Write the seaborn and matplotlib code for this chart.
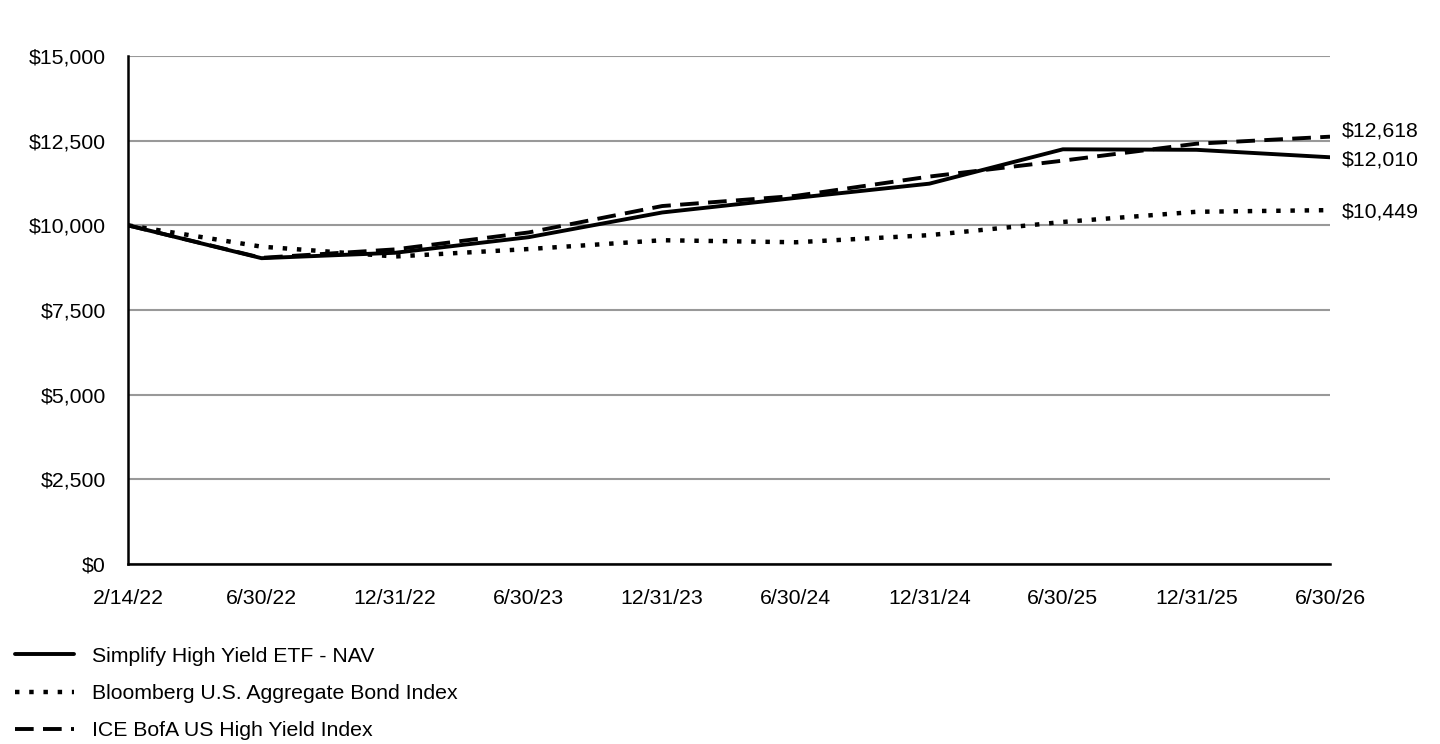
import numpy as np
import pandas as pd
import matplotlib
matplotlib.use("Agg")
import matplotlib.pyplot as plt
import seaborn as sns

# chart data
dates = ["2/14/22", "6/30/22", "12/31/22", "6/30/23", "12/31/23",
         "6/30/24", "12/31/24", "6/30/25", "12/31/25", "6/30/26"]
nav = [10000, 9030, 9190, 9650, 10380, 10810, 11230, 12245, 12230, 12010]
agg = [10000, 9370, 9080, 9300, 9560, 9500, 9710, 10100, 10400, 10449]
hy = [10000, 9040, 9290, 9790, 10570, 10870, 11440, 11910, 12410, 12618]
series_names = ["Simplify High Yield ETF - NAV",
                "Bloomberg U.S. Aggregate Bond Index",
                "ICE BofA US High Yield Index"]
end_labels = ["$12,010", "$10,449", "$12,618"]

sns.set_style("white")
plt.rcParams["font.family"] = ["Liberation Sans", "DejaVu Sans"]
plt.rcParams["text.color"] = "black"
plt.rcParams["xtick.color"] = "black"
plt.rcParams["ytick.color"] = "black"

FS = 15.3

fig = plt.figure(figsize=(14.4, 7.44), dpi=100)
ax = fig.add_axes([128 / 1440, 1 - 564 / 744, 1202 / 1440, 508 / 744])

styles = ["-", (0, (1.0, 2.2)), (0, (4.8, 2.4))]
widths = [2.8, 3.2, 2.8]
for vals, name, ls, lw in zip([nav, agg, hy], series_names, styles, widths):
    sns.lineplot(x=dates, y=vals, ax=ax, color="black", linewidth=lw,
                 linestyle=ls, label=name, sort=False)
for ln in ax.get_lines():
    ln.set_dash_capstyle("butt")

ax.set_xlim(0, len(dates) - 1)
ax.set_ylim(0, 15000)
ax.set_yticks(np.arange(0, 15001, 2500))
ax.set_yticklabels([f"${v:,.0f}" for v in np.arange(0, 15001, 2500)])
ax.yaxis.grid(True, color="#999999", linewidth=1.5)
ax.set_axisbelow(True)
ax.tick_params(axis="y", length=0, pad=16, labelsize=FS)
ax.tick_params(axis="x", length=0, pad=18, labelsize=FS)
ax.set_xlabel("")
ax.set_ylabel("")
for s in ["top", "right"]:
    ax.spines[s].set_visible(False)
for s in ["left", "bottom"]:
    ax.spines[s].set_color("black")
    ax.spines[s].set_linewidth(1.8)

# end value labels (slightly nudged to keep them apart)
offsets = [-2, -1, 4]
for vals, lab, off in zip([nav, agg, hy], end_labels, offsets):
    ax.annotate(lab, xy=(len(dates) - 1, vals[-1]), xytext=(8.5, off),
                textcoords="offset points", va="center", ha="left",
                fontsize=FS, annotation_clip=False)

ax.get_legend().remove()
handles, labels = ax.get_legend_handles_labels()
fig.legend(handles, labels, loc="upper left", bbox_to_anchor=(0.0, 1 - 632 / 744),
           frameon=False, fontsize=FS, handlelength=2.8, handletextpad=0.85,
           labelspacing=0.86, borderaxespad=0.3)

fig.savefig("out.png", dpi=100)
